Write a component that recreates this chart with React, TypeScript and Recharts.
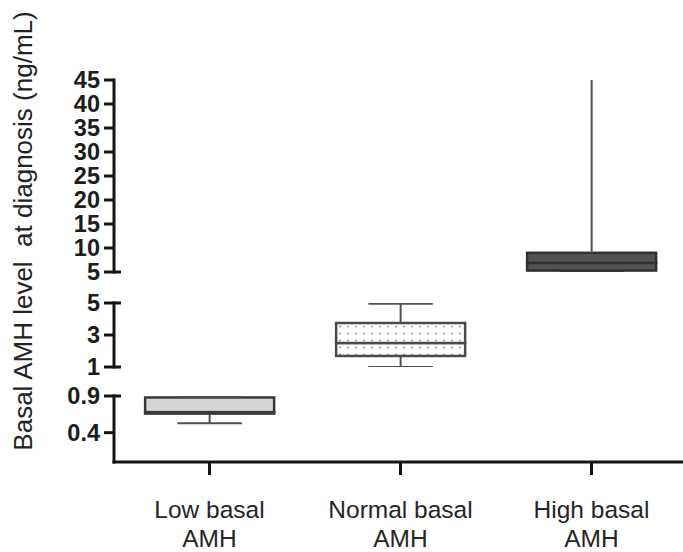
import { Bar, ComposedChart, XAxis, YAxis } from 'recharts';

const categories = ['Low basal AMH', 'Normal basal AMH', 'High basal AMH'];
const whiskerMin = [0.53, 1.0, 5.1];
const quartile1 = [0.66, 1.69, 5.3];
const medians = [0.68, 2.5, 6.9];
const quartile3 = [0.88, 3.75, 9.0];
const whiskerMax = [0.89, 4.95, 46];
// axis segment each group sits in
const groupSegment = ['low', 'mid', 'high'];

const highTicks = [5, 10, 15, 20, 25, 30, 35, 40, 45];
const midTicks = [1, 3, 5];
const lowTicks = [0.4, 0.9];

const boxFill = ['#d6d6d6', 'url(#dots)', '#525252'];
const boxStroke = ['#383838', '#4a4a4a', '#303030'];

const TICK_SIZE = 10;
const TICK_MARGIN = 4;
const AXIS = '#141414';

function rowsFor(seg: string) {
  return categories.map((name, i) => {
    const on = groupSegment[i] === seg;
    return {
      name,
      base: on ? whiskerMin[i] : null,
      lowWhisker: on ? quartile1[i] - whiskerMin[i] : null,
      lowBox: on ? medians[i] - quartile1[i] : null,
      highBox: on ? quartile3[i] - medians[i] : null,
      highWhisker: on ? whiskerMax[i] - quartile3[i] : null,
    };
  });
}

const span = (p: any) => {
  const top = Math.min(p.y, p.y + p.height);
  const bottom = Math.max(p.y, p.y + p.height);
  return { top, bottom, cx: p.x + p.width / 2, cap: p.width / 4 };
};

const off = (p: any) => p.payload == null || p.payload.base == null;

const Empty = () => <g />;

const WhiskerDown = (p: any) => {
  if (off(p)) return <g />;
  const { top, bottom, cx, cap } = span(p);
  return (
    <g stroke="#505050" strokeWidth={2}>
      <line x1={cx} x2={cx} y1={top} y2={bottom} />
      <line x1={cx - cap} x2={cx + cap} y1={bottom} y2={bottom} />
    </g>
  );
};

// cap is left out when the whisker runs past the top of the segment
const whiskerUp = (domainMax: number) => (p: any) => {
  if (off(p)) return <g />;
  const { top, bottom, cx, cap } = span(p);
  const capped = whiskerMax[p.index] <= domainMax;
  return (
    <g stroke="#505050" strokeWidth={2}>
      <line x1={cx} x2={cx} y1={top} y2={bottom} />
      {capped && <line x1={cx - cap} x2={cx + cap} y1={top} y2={top} />}
    </g>
  );
};

const BoxPart = (p: any) => {
  if (off(p)) return <g />;
  const { top, bottom } = span(p);
  const i = p.index;
  return (
    <g>
      <defs>
        <pattern id="dots" width={8} height={7} patternUnits="userSpaceOnUse">
          <rect width={8} height={7} fill="#fff" />
          <circle cx={4} cy={3.5} r={1.1} fill="#a0a0a0" />
        </pattern>
      </defs>
      <rect
        x={p.x}
        y={top}
        width={p.width}
        height={bottom - top}
        fill={boxFill[i]}
        stroke={boxStroke[i]}
        strokeWidth={2.5}
      />
    </g>
  );
};

const YTick = ({ x, y, payload, caps }: any) => {
  const ax = x + TICK_SIZE + TICK_MARGIN;
  return (
    <g>
      {caps.includes(payload.value) && (
        <line x1={ax} x2={ax + 7} y1={y} y2={y} stroke={AXIS} strokeWidth={3} />
      )}
      <text
        x={x}
        y={y}
        dy="0.36em"
        textAnchor="end"
        fill="#1c1c1c"
        fontFamily="'Liberation Sans', Arial, sans-serif"
        fontWeight="bold"
        fontSize={23.5}
      >
        {payload.value}
      </text>
    </g>
  );
};

const XTick = ({ x, y, payload }: any) => {
  const words = String(payload.value).split(' ');
  return (
    <text
      x={x}
      y={y}
      textAnchor="middle"
      fill="#262626"
      fontFamily="'Liberation Sans', Arial, sans-serif"
      fontSize={24.5}
    >
      <tspan x={x} dy={41}>{words.slice(0, -1).join(' ')}</tspan>
      <tspan x={x} dy={29}>{words[words.length - 1]}</tspan>
    </text>
  );
};

function Segment({
  seg,
  domain,
  ticks,
  caps,
  top,
  marginTop,
  plotHeight,
  withXAxis,
}: {
  seg: string;
  domain: [number, number];
  ticks: number[];
  caps: number[];
  top: number;
  marginTop: number;
  plotHeight: number;
  withXAxis?: boolean;
}) {
  const pad = withXAxis ? 0 : 14;
  const xHeight = withXAxis ? 90 : 0;
  return (
    <div style={{ position: 'absolute', left: 0, top }}>
      <ComposedChart
        width={690}
        height={marginTop + plotHeight + pad + xHeight}
        data={rowsFor(seg)}
        margin={{ top: marginTop, right: 3, bottom: pad, left: 0 }}
        barCategoryGap="16.3%"
      >
        <XAxis
          dataKey="name"
          hide={!withXAxis}
          height={90}
          axisLine={{ stroke: AXIS, strokeWidth: 3, strokeLinecap: 'square' }}
          tickLine={{ stroke: AXIS, strokeWidth: 3 }}
          tickSize={13}
          tickMargin={2}
          interval={0}
          tick={<XTick />}
        />
        <YAxis
          type="number"
          domain={domain}
          allowDataOverflow
          ticks={ticks}
          interval={0}
          width={114}
          axisLine={{ stroke: AXIS, strokeWidth: 3, strokeLinecap: 'square' }}
          tickLine={{ stroke: AXIS, strokeWidth: 3 }}
          tickSize={TICK_SIZE}
          tickMargin={TICK_MARGIN}
          tick={<YTick caps={caps} />}
        />
        <Bar dataKey="base" stackId="a" shape={Empty} isAnimationActive={false} />
        <Bar dataKey="lowWhisker" stackId="a" shape={WhiskerDown} isAnimationActive={false} />
        <Bar dataKey="lowBox" stackId="a" shape={BoxPart} isAnimationActive={false} />
        <Bar dataKey="highBox" stackId="a" shape={BoxPart} isAnimationActive={false} />
        <Bar dataKey="highWhisker" stackId="a" shape={whiskerUp(domain[1])} isAnimationActive={false} />
      </ComposedChart>
    </div>
  );
}

export default function App() {
  return (
    <div
      style={{
        position: 'fixed',
        top: 0,
        left: 0,
        width: 683,
        height: 552,
        overflow: 'hidden',
        background: '#fff',
      }}
    >
      <svg width={44} height={552} style={{ position: 'absolute', left: 0, top: 0 }}>
        <text
          transform="translate(32, 231) rotate(-90)"
          textAnchor="middle"
          fill="#222"
          fontFamily="'Liberation Sans', Arial, sans-serif"
          fontSize={26}
          style={{ whiteSpace: 'pre' }}
        >
          Basal AMH level  at diagnosis (ng/mL)
        </text>
      </svg>
      <Segment seg="high" domain={[5, 45]} ticks={highTicks} caps={[5]} top={60} marginTop={20} plotHeight={192} />
      <Segment seg="mid" domain={[1, 5]} ticks={midTicks} caps={[1, 5]} top={288} marginTop={15} plotHeight={64} />
      <Segment seg="low" domain={[0, 0.9]} ticks={lowTicks} caps={[0.9]} top={380} marginTop={16} plotHeight={66} withXAxis />
    </div>
  );
}
